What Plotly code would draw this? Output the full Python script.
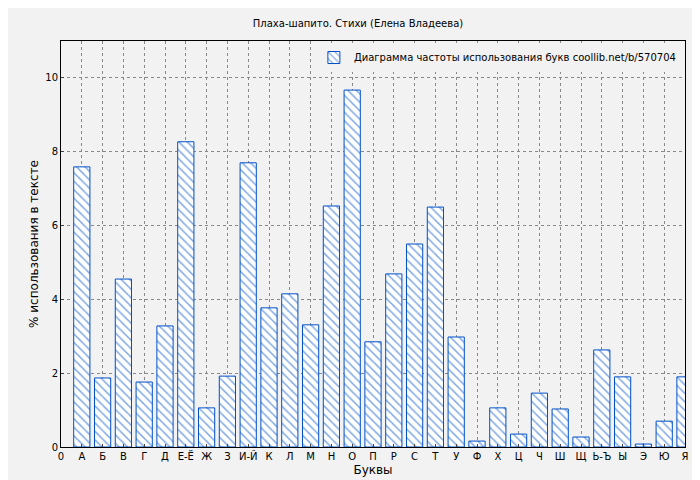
import plotly.graph_objects as go

letters = ["А","Б","В","Г","Д","Е-Ё","Ж","З","И-Й","К","Л","М","Н","О","П","Р","С","Т","У","Ф","Х","Ц","Ч","Ш","Щ","Ь-Ъ","Ы","Э","Ю","Я"]
values = [7.59,1.87,4.55,1.76,3.28,8.27,1.06,1.92,7.70,3.77,4.15,3.31,6.53,9.67,2.85,4.69,5.50,6.50,2.98,0.16,1.06,0.35,1.46,1.03,0.27,2.63,1.90,0.08,0.70,1.90]
positions = list(range(1, len(letters) + 1))
tick_labels = ["0"] + letters

fig = go.Figure(go.Bar(
    x=positions, y=values, width=0.78,
    name="Диаграмма частоты использования букв coollib.net/b/570704",
    marker=dict(color="white", line=dict(color="#0050c8", width=1),
                pattern=dict(shape="\\", fgcolor="#0050c8", bgcolor="white", size=6, solidity=0.25)),
))
fig.update_layout(
    width=700, height=480,
    margin=dict(l=53, r=23, t=33, b=41),
    paper_bgcolor="#f2f2f2", plot_bgcolor="#f2f2f2",
    font=dict(family="DejaVu Sans", size=10, color="black"),
    title=dict(text="Плаха-шапито. Стихи (Елена Владеева)", x=0.5, y=0.975, xanchor="center", font=dict(size=10)),
    showlegend=True,
    legend=dict(x=0.995, y=0.995, xanchor="right", yanchor="top", bgcolor="#f2f2f2", font=dict(size=10)),
)
fig.update_xaxes(range=[0, 30], tickvals=list(range(0, 31)), ticktext=tick_labels, automargin=False,
                 showgrid=True, gridcolor="#888888", griddash="dot", showline=True, linecolor="black", mirror=True,
                 ticks="inside", ticklen=3, title=dict(text="Буквы", standoff=4), tickfont=dict(size=10))
fig.update_yaxes(range=[0, 11], dtick=2, showgrid=True, gridcolor="#888888", griddash="dot", automargin=False,
                 showline=True, linecolor="black", mirror=True, ticks="inside", ticklen=3, zeroline=False,
                 title=dict(text="% использования в тексте", standoff=4), tickfont=dict(size=10))
fig.write_html("out.html")
